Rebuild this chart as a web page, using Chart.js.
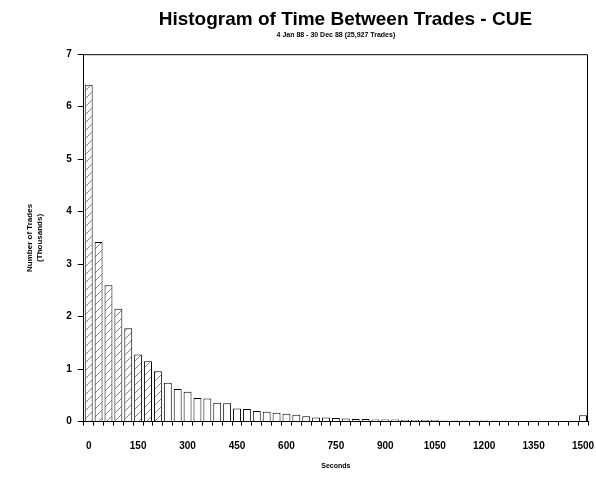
<!DOCTYPE html>
<html>
<head>
<meta charset="utf-8">
<script src="https://cdn.jsdelivr.net/npm/chart.js@4"></script>
<style>
    html, body { margin: 0; padding: 0; background: #fff; }
    #wrap { width: 596px; height: 477px; }
</style>
</head>
<body>
<div id="wrap"><canvas id="histo" width="596" height="477"></canvas></div>
<script>
// debut de chaque classe (secondes), pas de 30 s, derniere = 1500 et plus
const secondes = [0, 30, 60, 90, 120, 150, 180, 210, 240, 270,
    300, 330, 360, 390, 420, 450, 480, 510, 540, 570,
    600, 630, 660, 690, 720, 750, 780, 810, 840, 870,
    900, 930, 960, 990, 1020, 1050, 1080, 1110, 1140, 1170,
    1200, 1230, 1260, 1290, 1320, 1350, 1380, 1410, 1440, 1470,
    1500];

// nombre de transactions (milliers)
const nbTrades = [6.42, 3.42, 2.60, 2.15, 1.78, 1.28, 1.15, 0.96, 0.74, 0.62,
    0.57, 0.45, 0.44, 0.36, 0.35, 0.25, 0.24, 0.20, 0.19, 0.17,
    0.15, 0.13, 0.10, 0.08, 0.08, 0.07, 0.06, 0.05, 0.05, 0.04,
    0.04, 0.04, 0.03, 0.03, 0.03, 0.03, 0.02, 0.02, 0.02, 0.02,
    0.02, 0.015, 0.015, 0.01, 0.01, 0.01, 0.01, 0.01, 0.01, 0.01,
    0.12];

const ticksX = ["0", "150", "300", "450", "600", "750", "900", "1050", "1200", "1350", "1500"];
const ticksY = [0, 1, 2, 3, 4, 5, 6, 7];

const titre = "\u2003Histogram of Time Between Trades - CUE";
const sousTitre = "4 Jan 88 - 30 Dec 88 (25,927 Trades)";

// hachures (les premieres barres sont hachurees sur l'original)
const motif = document.getElementById("histo").getContext("2d");
const pat = (() => {
    const c = document.createElement("canvas");
    c.width = 8; c.height = 8;
    const g = c.getContext("2d");
    g.fillStyle = "#fff";
    g.fillRect(0, 0, 8, 8);
    g.strokeStyle = "#666";
    g.lineWidth = 0.8;
    g.beginPath();
    g.moveTo(0, 8); g.lineTo(8, 0);
    g.stroke();
    return motif.createPattern(c, "repeat");
})();
const fonds = nbTrades.map((v, i) => i < 8 ? pat : "#fff");

// cadre autour de la zone du graphique
const cadre = {
    id: "cadre",
    afterDraw(chart) {
        const a = chart.chartArea;
        const ctx = chart.ctx;
        ctx.save();
        ctx.strokeStyle = "#000";
        ctx.lineWidth = 1;
        ctx.beginPath();
        ctx.moveTo(a.left, a.top + 0.5);
        ctx.lineTo(a.right - 0.5, a.top + 0.5);
        ctx.lineTo(a.right - 0.5, a.bottom);
        ctx.stroke();
        ctx.restore();
    }
};

const police = "'Liberation Sans', Arial, sans-serif";

new Chart(document.getElementById("histo"), {
    type: "bar",
    data: {
        labels: secondes.map(String),
        datasets: [{
            data: nbTrades,
            backgroundColor: fonds,
            borderColor: "#000",
            borderWidth: 1,
            barPercentage: 0.8,
            categoryPercentage: 1.0
        }]
    },
    options: {
        responsive: false,
        animation: false,
        layout: { padding: { left: 21, right: 8, top: 2, bottom: 3 } },
        plugins: {
            legend: { display: false },
            tooltip: { enabled: false },
            title: {
                display: true,
                fullSize: false,
                text: titre,
                color: "#000",
                font: { family: police, size: 19, weight: "bold" },
                padding: { top: 6, bottom: 0 }
            },
            subtitle: {
                display: true,
                fullSize: false,
                text: sousTitre,
                color: "#000",
                font: { family: police, size: 7, weight: "bold" },
                padding: { bottom: 15 }
            }
        },
        scales: {
            x: {
                afterFit: s => { s.paddingRight = 0; },
                grid: { display: true, drawOnChartArea: false, drawTicks: true, tickLength: 4, color: "#000" },
                border: { color: "#000", width: 1 },
                ticks: {
                    autoSkip: false,
                    maxRotation: 0,
                    color: "#000",
                    font: { family: police, size: 10, weight: "bold" },
                    padding: 15,
                    callback: function(val, i) {
                        const s = String(secondes[i]);
                        return ticksX.includes(s) ? s : "";
                    }
                },
                title: {
                    display: true,
                    text: "Seconds",
                    color: "#000",
                    font: { family: police, size: 7, weight: "bold" },
                    padding: { top: -6 }
                }
            },
            y: {
                min: 0,
                max: 7,
                afterBuildTicks: axis => { axis.ticks = ticksY.map(v => ({ value: v })); },
                grid: { display: true, drawOnChartArea: false, drawTicks: true, tickLength: 6, color: "#000" },
                border: { color: "#000", width: 1 },
                ticks: {
                    color: "#000",
                    font: { family: police, size: 10, weight: "bold" },
                    padding: 6
                },
                title: {
                    display: true,
                    text: ["Number of Trades", "(Thousands)"],
                    color: "#000",
                    font: { family: police, size: 8, weight: "bold" },
                    padding: { bottom: 16 }
                }
            }
        }
    },
    plugins: [cadre]
});
</script>
</body>
</html>
